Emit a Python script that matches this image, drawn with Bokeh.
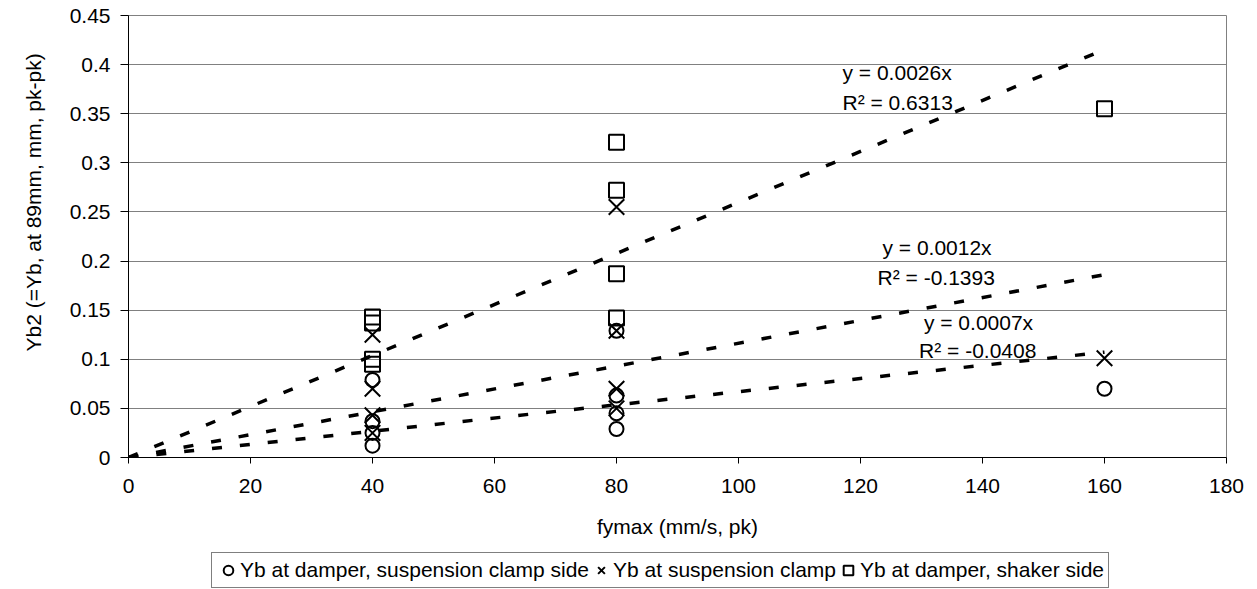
import numpy as np
from bokeh.plotting import figure
from bokeh.layouts import column
from bokeh.models import Range1d, Legend, LegendItem, FixedTicker, Label, Title
from bokeh.embed import file_html
from bokeh.resources import INLINE

# ---- data ----
fymax = [40, 40, 40, 40, 80, 80, 80, 80, 160]
yb_damper_clamp_side = [0.079, 0.037, 0.025, 0.012, 0.129, 0.063, 0.045, 0.029, 0.070]
yb_susp_clamp = [0.125, 0.070, 0.043, 0.025, 0.255, 0.129, 0.070, 0.050, 0.101]
yb_damper_shaker_side = [0.143, 0.137, 0.100, 0.095, 0.321, 0.272, 0.187, 0.142, 0.355]

series_names = ["Yb at damper, suspension clamp side",
                "Yb at suspension clamp",
                "Yb at damper, shaker side"]
trend_eq = ["y = 0.0007x", "y = 0.0012x", "y = 0.0026x"]
trend_r2 = ["R² = -0.0408", "R² = -0.1393", "R² = 0.6313"]
trend_x_end = 160

x_ticks = [0, 20, 40, 60, 80, 100, 120, 140, 160, 180]
y_ticks = [0, 0.05, 0.1, 0.15, 0.2, 0.25, 0.3, 0.35, 0.4, 0.45]
x_title = "fymax (mm/s, pk)"
y_title = "Yb2 (=Yb, at 89mm, mm, pk-pk)"

FONT = "Liberation Sans"
FS = "21px"
W = 1257
H_MAIN = 548
H_LEG = 41

p = figure(width=W, height=H_MAIN, output_backend="svg", toolbar_location=None,
           x_range=Range1d(0, 180), y_range=Range1d(0, 0.45),
           min_border_left=128, min_border_right=31, min_border_top=15,
           min_border_bottom=91)
p.background_fill_color = "white"
p.border_fill_color = "white"
p.outline_line_color = "#808080"

p.xgrid.visible = False
p.ygrid.ticker = FixedTicker(ticks=y_ticks)
p.ygrid.grid_line_color = "#808080"
p.ygrid.grid_line_width = 1

for ax in (p.xaxis[0], p.yaxis[0]):
    ax.axis_line_color = "black"
    ax.major_tick_line_color = "black"
    ax.minor_tick_line_color = None
    ax.major_tick_in = 0
    ax.major_label_text_font = FONT
    ax.major_label_text_font_size = FS
    ax.major_label_text_color = "black"
    ax.axis_label_text_font = FONT
    ax.axis_label_text_font_size = FS
    ax.axis_label_text_font_style = "normal"
    ax.axis_label_text_color = "black"

p.xaxis.major_tick_out = 6
p.yaxis.major_tick_out = 8
p.xaxis.ticker = FixedTicker(ticks=x_ticks)
p.yaxis.ticker = FixedTicker(ticks=y_ticks)
p.yaxis.major_label_overrides = {t: ("0" if t == 0 else ("%g" % t)) for t in y_ticks}
p.xaxis.axis_label = x_title
p.xaxis.major_label_standoff = 15
p.yaxis.major_label_standoff = 10
p.xaxis.axis_label_standoff = 19

# y title as a side title so it can sit a little above the frame centre
p.add_layout(Title(text=y_title, align="left", offset=106,
                   vertical_align="top", standoff=40,
                   text_font=FONT, text_font_size=FS,
                   text_font_style="normal", text_color="black"), "left")

# trend lines (least squares through origin)
xa = np.array(fymax, dtype=float)
for ys in (yb_damper_clamp_side, yb_susp_clamp, yb_damper_shaker_side):
    ya = np.array(ys)
    slope = (xa * ya).sum() / (xa * xa).sum()
    lx = [0, trend_x_end]
    p.line(lx, [slope * v for v in lx], line_color="black", line_width=3.5,
           line_dash="10 18")

marker_styles = [dict(marker="circle", size=14, fill_color=None),
                 dict(marker="x", size=22),
                 dict(marker="square", size=15, fill_color=None)]
series_vals = [yb_damper_clamp_side, yb_susp_clamp, yb_damper_shaker_side]
for ys, st in zip(series_vals, marker_styles):
    p.scatter(fymax, ys, line_color="black", line_width=2, **st)

# trendline labels (positions in data units)
label_pos = [((130.4, 0.1378), (129.6, 0.109)),
             ((123.6, 0.2142), (122.8, 0.1836)),
             ((117.05, 0.392), (117.05, 0.3618))]
for (pe, pr), eq, r2 in zip(label_pos, trend_eq, trend_r2):
    for (lx, ly), t in ((pe, eq), (pr, r2)):
        p.add_layout(Label(x=lx, y=ly, text=t, text_font=FONT,
                           text_font_size=FS, text_color="black",
                           text_baseline="middle", text_align="left"))

# ---- legend strip below the chart (same series, drawn outside its view) ----
p2 = figure(width=W, height=H_LEG, output_backend="svg", toolbar_location=None,
            x_range=Range1d(1000, 1001), y_range=Range1d(1000, 1001),
            x_axis_location=None, y_axis_location=None,
            min_border_left=0, min_border_right=0, min_border_top=0,
            min_border_bottom=0)
p2.grid.visible = False
p2.outline_line_color = None
p2.background_fill_color = "white"
p2.border_fill_color = "white"
leg_r = []
for ys, st in zip(series_vals, marker_styles):
    leg_r.append(p2.scatter(fymax, ys, line_color="black", line_width=2, **st))

legend = Legend(items=[LegendItem(label=n, renderers=[r])
                       for n, r in zip(series_names, leg_r)],
                orientation="horizontal", location=(83, 1),
                label_text_font=FONT, label_text_font_size=FS,
                label_text_color="black",
                glyph_width=24, glyph_height=26, label_standoff=-3,
                spacing=0, padding=4, margin=0,
                border_line_color="black", border_line_width=1,
                background_fill_color="white", background_fill_alpha=1)
p2.add_layout(legend, "center")

layout = column(p, p2, spacing=0)
open("out.html", "w").write(file_html(layout, INLINE))
